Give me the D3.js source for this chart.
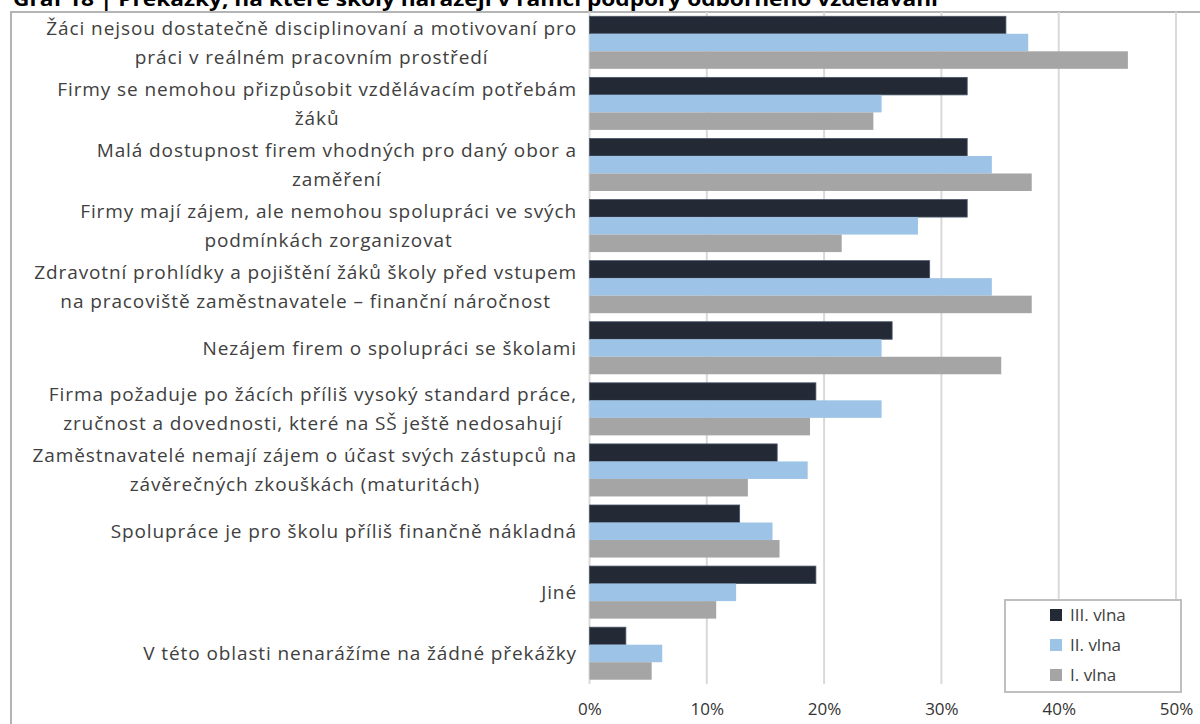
<!DOCTYPE html>
<html lang="cs">
<head>
<meta charset="utf-8">
<script src="https://cdn.jsdelivr.net/npm/d3@7"></script>
<style>
  html, body { margin: 0; padding: 0; background: #fff; }
  svg { display: block; }
  text { font-family: "Open Sans", "Noto Sans", sans-serif; }
</style>
</head>
<body>
<svg id="chart" width="1200" height="724"></svg>
<script>
// Obstacles reported by schools, three survey waves (share of schools)
const categories = [
  "Žáci nejsou dostatečně disciplinovaní a motivovaní pro\npráci v reálném pracovním prostředí",
  "Firmy se nemohou přizpůsobit vzdělávacím potřebám\nžáků",
  "Malá dostupnost firem vhodných pro daný obor a\nzaměření",
  "Firmy mají zájem, ale nemohou spolupráci ve svých\npodmínkách zorganizovat",
  "Zdravotní prohlídky a pojištění žáků školy před vstupem\nna pracoviště zaměstnavatele – finanční náročnost",
  "Nezájem firem o spolupráci se školami",
  "Firma požaduje po žácích příliš vysoký standard práce,\nzručnost a dovednosti, které na SŠ ještě nedosahují",
  "Zaměstnavatelé nemají zájem o účast svých zástupců na\nzávěrečných zkouškách (maturitách)",
  "Spolupráce je pro školu příliš finančně nákladná",
  "Jiné",
  "V této oblasti nenarážíme na žádné překážky"
];

const seriesNames = ["III. vlna", "II. vlna", "I. vlna"];
const wave3 = [35.5, 32.2, 32.2, 32.2, 29.0, 25.8, 19.3, 16.0, 12.8, 19.3, 3.1];
const wave2 = [37.4, 24.9, 34.3, 28.0, 34.3, 24.9, 24.9, 18.6, 15.6, 12.5, 6.2];
const wave1 = [45.9, 24.2, 37.7, 21.5, 37.7, 35.1, 18.8, 13.5, 16.2, 10.8, 5.3];
const seriesValues = [wave3, wave2, wave1];
const seriesColors = ["#232a36", "#9dc3e6", "#a5a5a5"];
const xTicks = [0, 10, 20, 30, 40, 50];

const title = "Graf 18 | Překážky, na které školy narážejí v rámci podpory odborného vzdělávání";

const svg = d3.select("#chart");

// Title (partly above the visible area)
svg.append("text")
  .attr("x", 13).attr("y", 6)
  .attr("font-family", "Liberation Sans, Arial, sans-serif")
  .attr("font-weight", "bold")
  .attr("font-size", 20)
  .attr("fill", "#000")
  .attr("textLength", 925)
  .attr("lengthAdjust", "spacingAndGlyphs")
  .text(title);

// Chart frame
svg.append("path")
  .attr("d", "M11,724 V12 H1200")
  .attr("fill", "none")
  .attr("stroke", "#b4b4b4")
  .attr("stroke-width", 2);

const plot = { left: 589.5, right: 1176, top: 12, bottom: 684 };

const x = d3.scaleLinear().domain([0, 50]).range([plot.left, plot.right]);
const y = d3.scaleBand().domain(categories).range([plot.top, plot.bottom])
  .paddingInner(0.14).paddingOuter(0.07);
const ySub = d3.scaleBand().domain(seriesNames).range([0, y.bandwidth()]);

// Vertical gridlines
svg.append("g").selectAll("line")
  .data(xTicks)
  .join("line")
  .attr("x1", d => x(d)).attr("x2", d => x(d))
  .attr("y1", plot.top).attr("y2", plot.bottom)
  .attr("stroke", "#d9d9d9")
  .attr("stroke-width", 2);

// Tick labels via d3 axis
const xAxis = d3.axisBottom(x).tickValues(xTicks).tickFormat(d => d + "%").tickSize(0).tickPadding(0);
const gx = svg.append("g").attr("transform", `translate(0, ${plot.bottom + 16})`).call(xAxis);
gx.select(".domain").remove();
gx.selectAll("text")
  .attr("font-family", "Open Sans, sans-serif")
  .attr("font-size", 17)
  .attr("fill", "#333")
  .attr("dy", "0.9em");

// Bars
seriesNames.forEach((name, si) => {
  svg.append("g").selectAll("rect")
    .data(categories.map((c, i) => ({ c, v: seriesValues[si][i] })))
    .join("rect")
    .attr("x", x(0))
    .attr("y", d => y(d.c) + ySub(name))
    .attr("width", d => x(d.v) - x(0))
    .attr("height", ySub.bandwidth())
    .attr("fill", seriesColors[si])
    .attr("stroke", si === 0 ? "#4a5668" : "none")
    .attr("stroke-width", si === 0 ? 0.8 : 0);
});

// Category labels: wrapped lines centred within a right-aligned block
const labelRight = 577;
const lineH = 29;
const labels = svg.append("g")
  .attr("font-size", 19)
  .attr("letter-spacing", 0.9)
  .attr("fill", "#404040");

categories.forEach(c => {
  const lines = c.split("\n");
  const g = labels.append("g");
  const cy = y(c) + y.bandwidth() / 2;
  const texts = lines.map((ln, li) => g.append("text")
    .attr("y", cy + (li - (lines.length - 1) / 2) * lineH)
    .attr("dy", "0.35em")
    .attr("text-anchor", "middle")
    .text(ln));
  const widths = texts.map(t => t.node().getComputedTextLength());
  const maxW = d3.max(widths);
  texts.forEach(t => t.attr("x", labelRight - maxW / 2));
});

// Legend
const legend = svg.append("g").attr("transform", "translate(1005, 600)");
legend.append("rect")
  .attr("width", 176).attr("height", 92)
  .attr("fill", "#fff")
  .attr("stroke", "#bfbfbf")
  .attr("stroke-width", 2);
seriesNames.forEach((name, i) => {
  const row = legend.append("g").attr("transform", `translate(45, ${15 + i * 30})`);
  row.append("rect")
    .attr("x", 0).attr("y", -6)
    .attr("width", 12).attr("height", 12)
    .attr("fill", seriesColors[i]);
  row.append("text")
    .attr("x", 20).attr("dy", "0.35em")
    .attr("font-size", 17)
    .attr("fill", "#404040")
    .text(name);
});
</script>
</body>
</html>
